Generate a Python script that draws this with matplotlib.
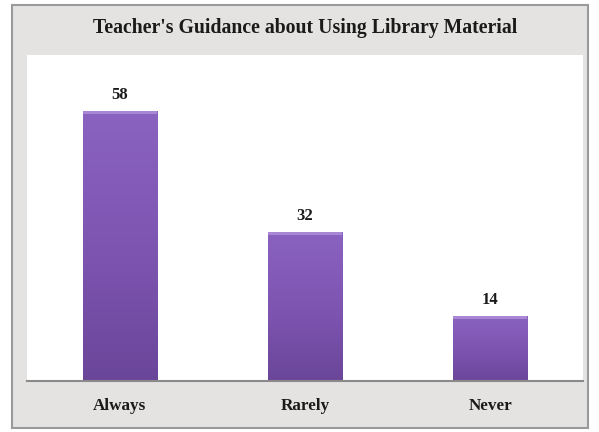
import numpy as np
import matplotlib.pyplot as plt
from matplotlib.patches import Rectangle
from matplotlib.colors import LinearSegmentedColormap

# data
categories = ['Always', 'Rarely', 'Never']
values = [58, 32, 14]
title = "Teacher's Guidance about Using Library Material"

plt.rcParams['font.family'] = ['Liberation Serif', 'DejaVu Serif']

fig = plt.figure(figsize=(5.99, 4.32), dpi=100)
fig.patch.set_facecolor('white')

# outer frame with light gray background
frame = Rectangle((0.02, 0.009), 0.962, 0.979, transform=fig.transFigure,
                  facecolor='#e4e3e1', edgecolor='#9a9a9a', linewidth=1.5, zorder=-1)
fig.add_artist(frame)

ax = fig.add_axes([0.0451, 0.1181, 0.9282, 0.7546])
ax.set_zorder(1)
ax.set_facecolor('white')

x = np.arange(len(categories))
width = 0.4
bars = ax.bar(x, values, width=width, color='#7b50ac', zorder=2)

# vertical gradient on each bar (lighter at top, darker at bottom)
grad = np.linspace(0, 1, 256).reshape(-1, 1)
cmap = LinearSegmentedColormap.from_list('purp', ['#6a4699', '#7f55b2', '#8a62c0'])
for b in bars:
    x0, y0 = b.get_x(), b.get_y()
    w, h = b.get_width(), b.get_height()
    im = ax.imshow(grad, extent=(x0, x0 + w, y0, y0 + h), origin='lower',
                   cmap=cmap, aspect='auto', zorder=3)
    im.set_clip_path(b)
    # light bevel at top
    ax.add_patch(Rectangle((x0, y0 + h - 0.6), w, 0.6, facecolor='#a888d4',
                           edgecolor='none', zorder=4))

for xi, v in zip(x, values):
    ax.text(xi, v + 1.7, str(v), ha='center', va='bottom', fontsize=12,
            fontweight='bold', color='#1a1a1a')

ax.set_xlim(-0.5, 2.5)
ax.set_ylim(0, 70)
ax.set_yticks([])
ax.set_xticks(x)
ax.set_xticklabels(categories, fontsize=12.3, fontweight='bold', color='#1a1a1a')
ax.tick_params(axis='x', length=0, pad=12)
for s in ['top', 'right', 'left']:
    ax.spines[s].set_visible(False)
ax.spines['bottom'].set_color('#8a8a8a')
ax.spines['bottom'].set_linewidth(1.5)
ax.spines['bottom'].set_zorder(5)

fig.text(0.509, 0.935, title, ha='center', va='center', fontsize=14.2,
         fontweight='bold', color='#1a1a1a')

fig.savefig('out.png', dpi=100)
